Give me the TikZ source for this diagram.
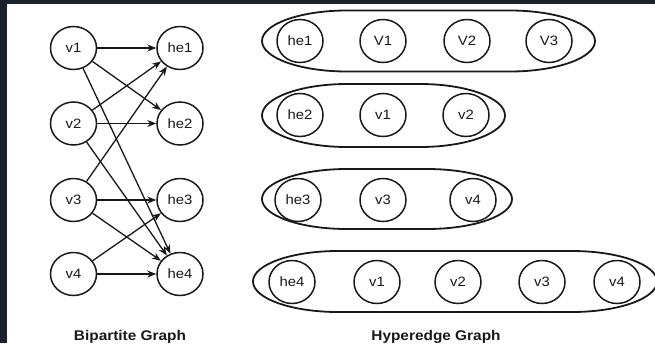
\documentclass[tikz,border=0pt]{standalone}
\usepackage{fontspec}
\setmainfont{Liberation Sans}[FakeStretch=1.1]
\usetikzlibrary{arrows.meta,shapes.geometric}
\definecolor{framecol}{RGB}{28,33,46}
\definecolor{ink}{RGB}{25,25,25}
\newcommand\hring[4]{% x1, x2, yc, h
  \draw[ringline] ({#1+85},{#3-#4}) -- ({#2-85},{#3-#4})
    arc[start angle=90,end angle=-90,x radius=85pt,y radius=#4 pt]
    -- ({#1+85},{#3+#4})
    arc[start angle=270,end angle=90,x radius=85pt,y radius=#4 pt] -- cycle;}
\begin{document}
\begin{tikzpicture}[x=1pt,y=-1pt,
  vert/.style={draw=ink, line width=1.5pt, ellipse, minimum width=46pt, minimum height=43pt, inner sep=0pt,
    text=ink, font=\fontsize{13.5}{14}\selectfont},
  conn/.style={draw=ink, line width=1.3pt, -{Stealth[length=9pt,width=7pt]}},
  ringline/.style={draw=ink, line width=1.8pt},
  title/.style={text=ink, font=\fontsize{14}{15}\selectfont\bfseries, anchor=base}]
\useasboundingbox (0,0) rectangle (655,343);
\fill[framecol] (0,0) rectangle (655,343);
\fill[white] (7,4) rectangle (655,343);
% bipartite graph
\node[vert] (v1) at (73.5,48) {v1};
\node[vert] (v2) at (73.5,123.5) {v2};
\node[vert] (v3) at (73.5,200) {v3};
\node[vert] (v4) at (73.5,274) {v4};
\node[vert] (he1) at (180,48) {he1};
\node[vert] (he2) at (180,123.5) {he2};
\node[vert] (he3) at (180,200) {he3};
\node[vert] (he4) at (180,274) {he4};
\draw[conn] (v1) -- (he1);
\draw[conn] (v1) -- (he2);
\draw[conn] (v1) -- (he4);
\draw[conn] (v2) -- (he1);
\draw[conn] (v2) -- (he2);
\draw[conn] (v2) -- (he4);
\draw[conn] (v3) -- (he1);
\draw[conn] (v3) -- (he3);
\draw[conn] (v3) -- (he4);
\draw[conn] (v4) -- (he3);
\draw[conn] (v4) -- (he4);
\node[title] (bt) at (130,340) {Bipartite Graph};
% hyperedge graph
\hring{262}{595}{41}{30.5}
\node[vert] (ra) at (300,41) {he1};
\node[vert] (rb) at (383,41) {V1};
\node[vert] (rc) at (467,41) {V2};
\node[vert] (rd) at (549,41) {V3};
\hring{262}{505}{115.5}{31.5}
\node[vert] (sa) at (300,115) {he2};
\node[vert] (sb) at (383,115) {v1};
\node[vert] (sc) at (466,115) {v2};
\hring{262}{512}{199}{30}
\node[vert] (ta) at (298,200) {he3};
\node[vert] (tb) at (383,200) {v3};
\node[vert] (tc) at (473,200) {v4};
\hring{253}{657}{281.5}{30.5}
\node[vert] (ua) at (292,282) {he4};
\node[vert] (ub) at (377,282) {v1};
\node[vert] (uc) at (458,282) {v2};
\node[vert] (ud) at (542,282) {v3};
\node[vert] (ue) at (617,282) {v4};
\node[title] (ht) at (436,340) {Hyperedge Graph};
\end{tikzpicture}
\end{document}
